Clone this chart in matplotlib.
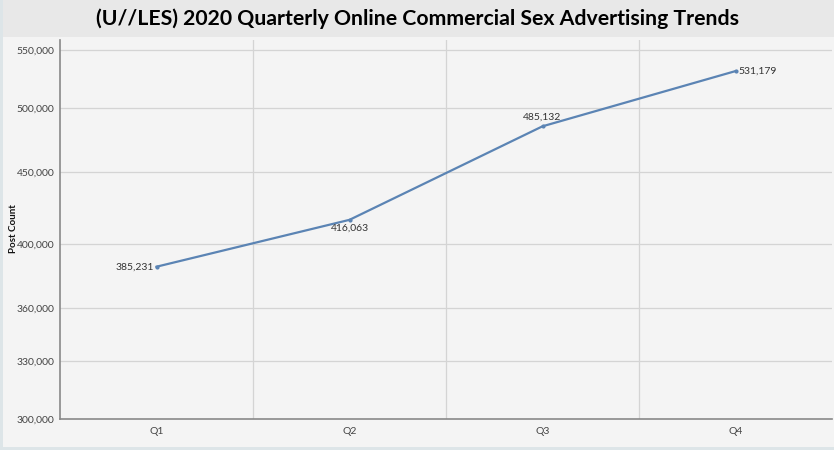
import matplotlib.pyplot as plt
from matplotlib.ticker import FixedLocator, NullLocator
from matplotlib.patches import Rectangle

# data
quarters = ["Q1", "Q2", "Q3", "Q4"]
post_counts = [385231, 416063, 485132, 531179]
y_ticks = [300000, 330000, 360000, 400000, 450000, 500000, 550000]

plt.rcParams['font.family'] = ['Lato', 'DejaVu Sans']

fig = plt.figure(figsize=(8.34, 4.5), dpi=100, facecolor='#f4f4f4')

# title band and thin borders
fig.patches.append(Rectangle((0, 1 - 37 / 450), 1, 37 / 450, transform=fig.transFigure,
                             facecolor='#e8e8e8', edgecolor='none', zorder=0))
fig.patches.append(Rectangle((0, 0), 3 / 834, 1, transform=fig.transFigure,
                             facecolor='#dde5e8', edgecolor='none', zorder=0))
fig.patches.append(Rectangle((0, 0), 1, 3 / 450, transform=fig.transFigure,
                             facecolor='#dde5e8', edgecolor='none', zorder=0))
fig.text(0.5, 1 - 19 / 450, "(U//LES) 2020 Quarterly Online Commercial Sex Advertising Trends",
         ha='center', va='center', fontsize=15.3, fontweight='bold', color='#000000')

ax = fig.add_axes([60 / 834, 1 - 419 / 450, 772 / 834, 379 / 450])
ax.set_facecolor('#f4f4f4')

x = list(range(len(quarters)))
ax.plot(x, post_counts, color='#5b84b4', linewidth=1.6, marker='o', markersize=2, zorder=3)

ax.set_yscale('log')
ax.set_ylim(300000, 559000)
ax.set_xlim(-0.5, 3.5)
ax.yaxis.set_major_locator(FixedLocator(y_ticks))
ax.yaxis.set_minor_locator(NullLocator())
ax.set_yticklabels([f"{v:,}" for v in y_ticks])
ax.set_xticks(x)
ax.set_xticklabels(quarters)
ax.tick_params(axis='both', length=0, labelsize=7.5, colors='#444444')
ax.tick_params(axis='y', pad=4)
ax.tick_params(axis='x', pad=6)

for v in y_ticks[1:]:
    ax.axhline(v, color='#d4d4d4', linewidth=0.9, zorder=1)
for b in [0.5, 1.5, 2.5]:
    ax.axvline(b, color='#d4d4d4', linewidth=0.9, zorder=1)

for s in ['top', 'right']:
    ax.spines[s].set_visible(False)
for s in ['left', 'bottom']:
    ax.spines[s].set_color('#888888')
    ax.spines[s].set_linewidth(1.2)

fig.text(14 / 834, 1 - 229 / 450, "Post Count", rotation=90, ha='center', va='center',
         fontsize=7, fontweight='bold', color='#111111')

# data labels
lbl = [f"{v:,}" for v in post_counts]
ax.annotate(lbl[0], (0, post_counts[0]), xytext=(-2, 0), textcoords='offset points',
            ha='right', va='center', fontsize=7.5, color='#333333')
ax.annotate(lbl[1], (1, post_counts[1]), xytext=(0, -3), textcoords='offset points',
            ha='center', va='top', fontsize=7.5, color='#333333')
ax.annotate(lbl[2], (2, post_counts[2]), xytext=(0, 3), textcoords='offset points',
            ha='center', va='bottom', fontsize=7.5, color='#333333')
ax.annotate(lbl[3], (3, post_counts[3]), xytext=(2, 0), textcoords='offset points',
            ha='left', va='center', fontsize=7.5, color='#333333')

fig.savefig("out.png", dpi=100, facecolor=fig.get_facecolor())
